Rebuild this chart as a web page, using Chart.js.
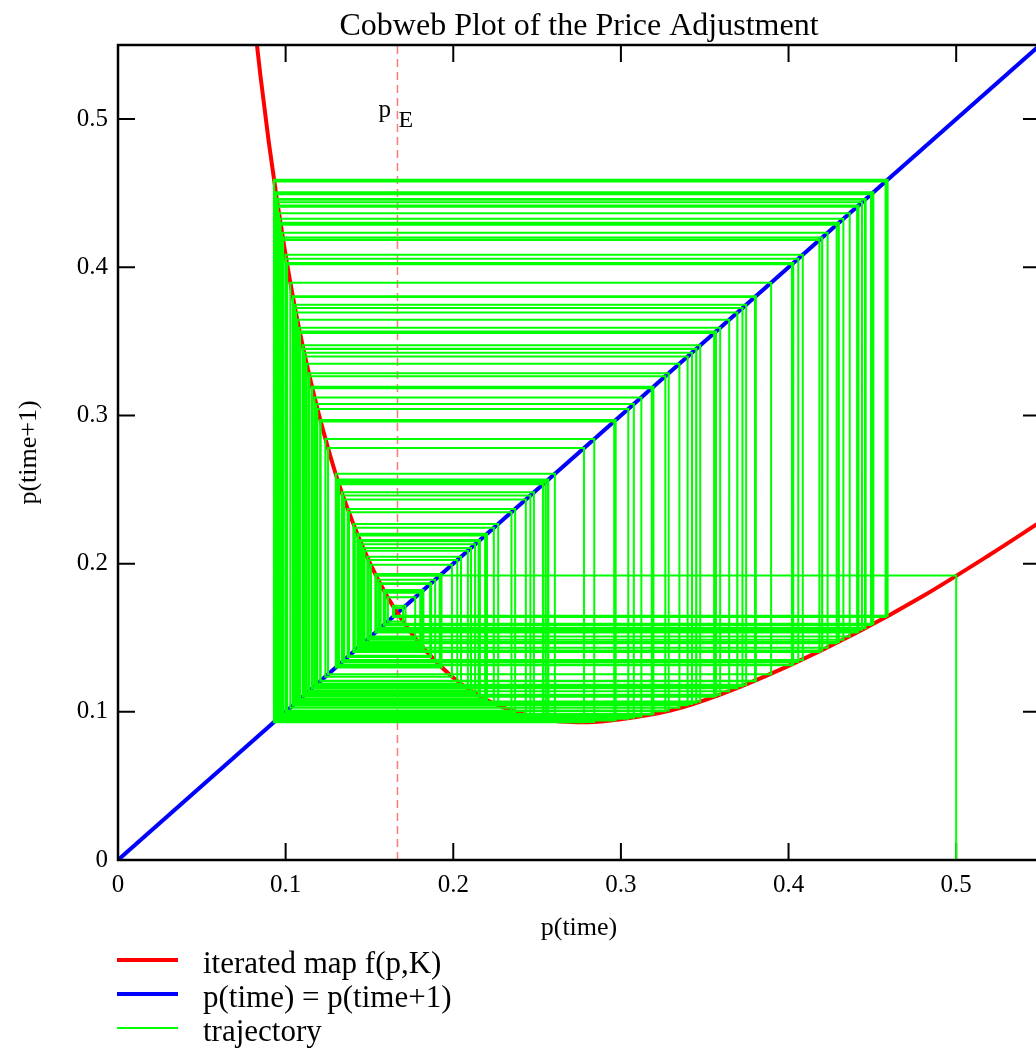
<!DOCTYPE html>
<html>
<head>
<meta charset="utf-8">
<script src="https://cdn.jsdelivr.net/npm/chart.js@4.4.1/dist/chart.umd.min.js"></script>
<style>
  html, body { margin: 0; padding: 0; background: #fff; overflow: hidden; }
  #wrap { position: absolute; left: 0; top: 0; width: 1044px; height: 950px; }
  #legend { position: absolute; left: 0; top: 946px; font-family: 'Liberation Serif', 'Times New Roman', serif; font-size: 31px; color: #000; }
  .row { position: relative; height: 34px; line-height: 34px; white-space: nowrap; }
  .row span.swatch { position: absolute; left: 117px; width: 61px; }
  .row span.txt { position: absolute; left: 203px; top: 0; }
</style>
</head>
<body>
<div id="wrap"><canvas id="cobweb" width="1044" height="950"></canvas></div>
<div id="legend"></div>
<script>
// iterated map f(p,K)
const mapP = [0.082, 0.085, 0.09, 0.095, 0.1, 0.105, 0.11, 0.115, 0.12, 0.13, 0.14, 0.15, 0.16, 0.17, 0.18, 0.2,
  0.22, 0.24, 0.26, 0.28, 0.3, 0.33, 0.36, 0.4, 0.44, 0.48, 0.52, 0.55];
const mapF = [0.559, 0.529, 0.484, 0.444, 0.408, 0.376, 0.348, 0.323, 0.300, 0.260, 0.228, 0.201, 0.179, 0.161, 0.146, 0.123,
  0.108, 0.099, 0.094, 0.093, 0.095, 0.101, 0.112, 0.131, 0.153, 0.178, 0.206, 0.228];

// p(time) = p(time+1)
const diagP = [0, 0.55];

// equilibrium price
const pE = 0.1667;

// successive prices of the trajectory, starting at p = 0.5
const trajectory = [0.5, 0.192, 0.131, 0.2567, 0.0947, 0.446, 0.1567, 0.1862, 0.1378, 0.2347, 0.1008, 0.4028,
  0.1319, 0.2535, 0.0952, 0.4417, 0.154, 0.1919, 0.1311, 0.2563, 0.0947, 0.4456, 0.1564, 0.1868, 0.137, 0.2369,
  0.0999, 0.4085, 0.135, 0.2433, 0.0978, 0.4233, 0.1432, 0.219, 0.1086, 0.3556, 0.1101, 0.3473, 0.107, 0.3646,
  0.1138, 0.3285, 0.1009, 0.402, 0.1315, 0.255, 0.095, 0.4438, 0.1553, 0.1892, 0.1342, 0.246, 0.097, 0.4287,
  0.1463, 0.2106, 0.1142, 0.3265, 0.1003, 0.4058, 0.1336, 0.2481, 0.0965, 0.4327, 0.1487, 0.2046, 0.1189, 0.3044,
  0.0954, 0.4409, 0.1535, 0.193, 0.1299, 0.2606, 0.0941, 0.4506, 0.1595, 0.1803, 0.1454, 0.213, 0.1125, 0.3349,
  0.1028, 0.3896, 0.1253, 0.278, 0.093, 0.4591, 0.1648, 0.17, 0.161, 0.1773, 0.1496, 0.2024, 0.1208, 0.2961,
  0.0942, 0.45, 0.1591, 0.1811, 0.1443, 0.2159, 0.1106, 0.345, 0.1062, 0.3694, 0.1159, 0.3185, 0.0983, 0.42,
  0.1413, 0.2242, 0.1057, 0.3725, 0.1172, 0.3122, 0.0968, 0.43, 0.1471, 0.2087, 0.1157, 0.3194, 0.0985, 0.4184,
  0.1404, 0.2268, 0.1043, 0.3805, 0.1209, 0.296, 0.0941, 0.4502, 0.1592, 0.1809, 0.1446, 0.2151, 0.1111, 0.3424,
  0.1053, 0.3747, 0.1182, 0.3077, 0.096, 0.4365, 0.1509, 0.1992, 0.1237, 0.2841, 0.0931, 0.4579, 0.164, 0.1715,
  0.1585, 0.1822, 0.1428, 0.2201, 0.108, 0.3592, 0.1116, 0.3398, 0.1044, 0.38, 0.1206, 0.2969, 0.0943, 0.4492,
  0.1586, 0.182, 0.1431, 0.2193, 0.1084, 0.3567, 0.1106, 0.3449, 0.1062, 0.3695, 0.1159, 0.3184, 0.0982, 0.4201,
  0.1414];

const xTicks = [0, 0.1, 0.2, 0.3, 0.4, 0.5];
const yTicks = [0, 0.1, 0.2, 0.3, 0.4, 0.5];

const serif = "'Liberation Serif', 'Times New Roman', serif";

// cobweb path: up from the axis, then alternate to the diagonal and back to the map
let cobweb = [{x: trajectory[0], y: 0}];
for (let i = 1; i < trajectory.length; i++) {
  cobweb.push({x: trajectory[i - 1], y: trajectory[i]});
  cobweb.push({x: trajectory[i], y: trajectory[i]});
}

const mapPts = mapP.map((p, i) => ({x: p, y: mapF[i]}));
const diagPts = diagP.map(p => ({x: p, y: p}));
const pELine = [{x: pE, y: 0}, {x: pE, y: 0.55}];

// inward ticks on all four sides go under the data, the frame goes over it
const framePlugin = {
  id: 'frame',
  beforeDatasetsDraw(chart) {
    const {ctx, chartArea: a, scales: {x, y}} = chart;
    ctx.save();
    ctx.strokeStyle = '#000';
    ctx.lineWidth = 2;
    ctx.beginPath();
    xTicks.forEach(v => {
      if (v === 0) return;
      const px = x.getPixelForValue(v);
      ctx.moveTo(px, a.bottom); ctx.lineTo(px, a.bottom - 17);
      ctx.moveTo(px, a.top); ctx.lineTo(px, a.top + 17);
    });
    yTicks.forEach(v => {
      if (v === 0) return;
      const py = y.getPixelForValue(v);
      ctx.moveTo(a.left, py); ctx.lineTo(a.left + 17, py);
      ctx.moveTo(a.right, py); ctx.lineTo(a.right - 17, py);
    });
    ctx.stroke();
    ctx.restore();
  },
  afterDatasetsDraw(chart) {
    const {ctx, chartArea: a, scales: {x, y}} = chart;
    ctx.save();
    ctx.strokeStyle = '#000';
    ctx.lineWidth = 2.5;
    ctx.strokeRect(a.left, a.top, a.right - a.left, a.bottom - a.top);

    ctx.fillStyle = '#000';
    ctx.textBaseline = 'alphabetic';
    ctx.textAlign = 'center';
    ctx.font = '32px ' + serif;
    ctx.fillText('Cobweb Plot of the Price Adjustment', (a.left + a.right) / 2, 35);

    const ex = x.getPixelForValue(pE);
    const ey = y.getPixelForValue(0.5);
    ctx.textAlign = 'left';
    ctx.font = '25px ' + serif;
    ctx.fillText('p', ex - 19, ey - 2);
    ctx.font = '24px ' + serif;
    ctx.fillText('E', ex + 1, ey + 8);
    ctx.restore();
  }
};

const ctx = document.getElementById('cobweb').getContext('2d');
const chart = new Chart(ctx, {
  type: 'scatter',
  data: {
    datasets: [
      {
        label: 'trajectory',
        data: cobweb,
        showLine: true,
        borderColor: '#00ff00',
        borderWidth: 2,
        pointRadius: 0,
        tension: 0
      },
      {
        label: 'iterated map f(p,K)',
        data: mapPts,
        showLine: true,
        borderColor: '#ff0000',
        borderWidth: 4,
        pointRadius: 0,
        cubicInterpolationMode: 'monotone'
      },
      {
        label: 'p(time) = p(time+1)',
        data: diagPts,
        showLine: true,
        borderColor: '#0000ff',
        borderWidth: 4,
        pointRadius: 0
      },
      {
        label: 'pE',
        data: pELine,
        showLine: true,
        borderColor: '#ff7a7a',
        borderWidth: 1.5,
        borderDash: [8, 5],
        pointRadius: 0
      }
    ]
  },
  options: {
    responsive: false,
    animation: false,
    devicePixelRatio: 1,
    layout: { padding: { left: 0, right: 4, top: 45, bottom: 0 } },
    plugins: {
      legend: { display: false },
      tooltip: { enabled: false },
      title: { display: false }
    },
    scales: {
      x: {
        type: 'linear',
        min: 0,
        max: 0.55,
        grid: { display: false, drawTicks: false },
        border: { display: false },
        afterFit: s => { s.height = 90; },
        ticks: {
          stepSize: 0.1,
          includeBounds: false,
          padding: 10,
          color: '#000',
          maxRotation: 0,
          font: { family: serif, size: 25 },
          callback: v => String(Math.round(v * 10) / 10)
        },
        title: {
          display: true,
          text: 'p(time)',
          color: '#000',
          font: { family: serif, size: 26 },
          padding: { top: 0, bottom: 6 }
        }
      },
      y: {
        type: 'linear',
        min: 0,
        max: 0.55,
        grid: { display: false, drawTicks: false },
        border: { display: false },
        afterFit: s => { s.width = 118; },
        ticks: {
          stepSize: 0.1,
          includeBounds: false,
          padding: 10,
          color: '#000',
          font: { family: serif, size: 25 },
          callback: v => String(Math.round(v * 10) / 10)
        },
        title: {
          display: true,
          text: 'p(time+1)',
          color: '#000',
          font: { family: serif, size: 26 },
          padding: { top: 14, bottom: 0 }
        }
      }
    }
  },
  plugins: [framePlugin]
});

// legend in the reference order
const legendItems = [
  { text: 'iterated map f(p,K)', color: '#ff0000', width: 4 },
  { text: 'p(time) = p(time+1)', color: '#0000ff', width: 4 },
  { text: 'trajectory', color: '#00ff00', width: 2 }
];
const legend = document.getElementById('legend');
legendItems.forEach(item => {
  const row = document.createElement('div');
  row.className = 'row';
  const sw = document.createElement('span');
  sw.className = 'swatch';
  sw.style.top = (14 - item.width / 2) + 'px';
  sw.style.height = item.width + 'px';
  sw.style.background = item.color;
  const txt = document.createElement('span');
  txt.className = 'txt';
  txt.textContent = item.text;
  row.appendChild(sw);
  row.appendChild(txt);
  legend.appendChild(row);
});
</script>
</body>
</html>
